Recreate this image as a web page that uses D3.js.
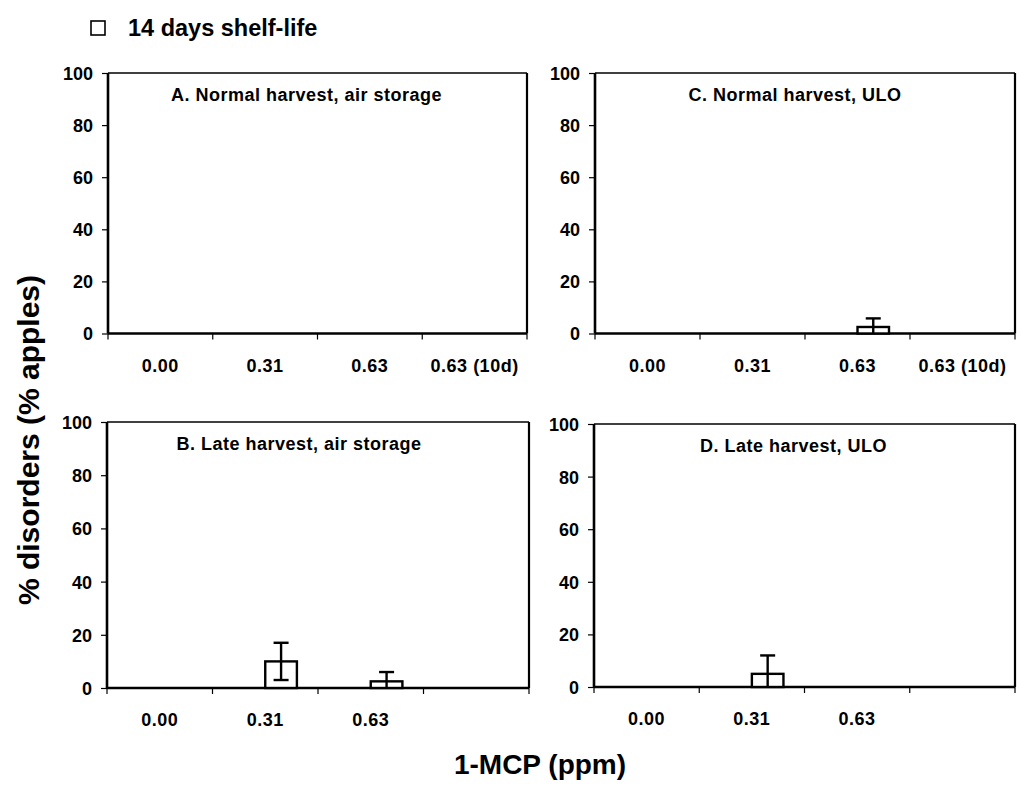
<!DOCTYPE html>
<html>
<head>
<meta charset="utf-8">
<script src="https://cdn.jsdelivr.net/npm/d3@7"></script>
<style>
  html, body { margin: 0; padding: 0; background: #fff; }
  svg { display: block; font-family: "Liberation Sans", Arial, Helvetica, sans-serif; font-weight: bold; }
</style>
</head>
<body>
<svg id="chart" width="1017" height="787"></svg>
<script>
// ---- data ----
const legendLabel = "14 days shelf-life";
const panelTitles = ["A. Normal harvest, air storage", "B. Late harvest, air storage", "C. Normal harvest, ULO", "D. Late harvest, ULO"];
const categoriesTop = ["0.00", "0.31", "0.63", "0.63 (10d)"];
const categoriesBottom = ["0.00", "0.31", "0.63", ""];
const valuesA = [0, 0, 0, 0];
const errorsA = [0, 0, 0, 0];
const valuesB = [0, 10, 2.5, null];
const errorsB = [0, 7, 3.5, null];
const valuesC = [0, 0, 2.5, 0];
const errorsC = [0, 0, 3.3, 0];
const valuesD = [0, 5, 0, null];
const errorsD = [0, 7, 0, null];
const yTicks = [0, 20, 40, 60, 80, 100];
const xAxisTitle = "1-MCP (ppm)";
const yAxisTitle = "% disorders (% apples)";

const svg = d3.select("#chart");

// panel layout
const layout = [
  { title: panelTitles[0], cats: categoriesTop, vals: valuesA, errs: errorsA, x0: 108, x1: 527, yTop: 73, yBase: 333.5, tdx: -11 },
  { title: panelTitles[1], cats: categoriesBottom, vals: valuesB, errs: errorsB, x0: 107, x1: 529, yTop: 422, yBase: 688, tdx: -19 },
  { title: panelTitles[2], cats: categoriesTop, vals: valuesC, errs: errorsC, x0: 595, x1: 1015, yTop: 73, yBase: 333.5, tdx: -10 },
  { title: panelTitles[3], cats: categoriesBottom, vals: valuesD, errs: errorsD, x0: 594, x1: 1015, yTop: 424, yBase: 687, tdx: -11 }
];

const tickFont = 18;

layout.forEach(p => {
  const g = svg.append("g");
  const keys = p.cats.map((c, i) => i);
  const x = d3.scaleBand().domain(keys).range([p.x0, p.x1]).padding(0);
  const sub = d3.scaleBand().domain(["_", "shelf"]).range([x.bandwidth() * 0.2, x.bandwidth() * 0.8]).padding(0);
  const y = d3.scaleLinear().domain([0, 100]).range([p.yBase, p.yTop]);

  // plot-area border (top and right)
  g.append("line").attr("x1", p.x0).attr("x2", p.x1).attr("y1", p.yTop).attr("y2", p.yTop)
    .attr("stroke", "#000").attr("stroke-width", 1.6);
  g.append("line").attr("x1", p.x1).attr("x2", p.x1).attr("y1", p.yTop).attr("y2", p.yBase)
    .attr("stroke", "#000").attr("stroke-width", 2.2);

  // y axis
  const yAxis = d3.axisLeft(y).tickValues(yTicks).tickSize(6).tickPadding(9).tickFormat(d3.format("d"));
  const ya = g.append("g").attr("transform", `translate(${p.x0},0)`).call(yAxis);
  ya.select(".domain").attr("stroke-width", 2.6).attr("d", `M0,${p.yTop}V${p.yBase}`);
  ya.selectAll(".tick line").attr("stroke-width", 1.2);
  ya.selectAll(".tick text").attr("font-size", tickFont).attr("font-weight", "bold")
    .attr("font-family", "Liberation Sans, Arial, sans-serif").attr("fill", "#000")
    .attr("dy", "0.36em");

  // x axis
  const boundaries = keys.map(k => x(k)).concat([p.x1]);
  g.selectAll(".xtick").data(boundaries).enter().append("line")
    .attr("x1", d => d).attr("x2", d => d).attr("y1", p.yBase).attr("y2", p.yBase + 6)
    .attr("stroke", "#000").attr("stroke-width", 1.2);
  g.append("line").attr("x1", p.x0).attr("x2", p.x1).attr("y1", p.yBase).attr("y2", p.yBase)
    .attr("stroke", "#000").attr("stroke-width", 2.6);
  g.selectAll(".xlab").data(keys).enter().append("text")
    .attr("x", k => x(k) + x.bandwidth() / 2).attr("y", p.yBase + 38)
    .attr("text-anchor", "middle").attr("font-size", tickFont).attr("letter-spacing", 0.5)
    .text(k => p.cats[k]);

  // bars
  const barData = keys.filter(k => p.vals[k] !== null && p.vals[k] > 0);
  g.selectAll(".bar").data(barData).enter().append("rect")
    .attr("x", k => x(k) + sub("shelf"))
    .attr("width", sub.bandwidth())
    .attr("y", k => y(p.vals[k]))
    .attr("height", k => y(0) - y(p.vals[k]))
    .attr("fill", "#fff").attr("stroke", "#000").attr("stroke-width", 2.4);

  // error bars
  const errData = barData.filter(k => p.errs[k] > 0);
  const cx = k => x(k) + sub("shelf") + sub.bandwidth() / 2;
  g.selectAll(".err").data(errData).enter().append("line")
    .attr("x1", cx).attr("x2", cx)
    .attr("y1", k => y(p.vals[k] + p.errs[k]))
    .attr("y2", k => y(Math.max(0, p.vals[k] - p.errs[k])))
    .attr("stroke", "#000").attr("stroke-width", 2.4);
  g.selectAll(".capT").data(errData).enter().append("line")
    .attr("x1", k => cx(k) - 7.5).attr("x2", k => cx(k) + 7.5)
    .attr("y1", k => y(p.vals[k] + p.errs[k])).attr("y2", k => y(p.vals[k] + p.errs[k]))
    .attr("stroke", "#000").attr("stroke-width", 2.4);
  g.selectAll(".capB").data(errData.filter(k => p.vals[k] - p.errs[k] > 0)).enter().append("line")
    .attr("x1", k => cx(k) - 7.5).attr("x2", k => cx(k) + 7.5)
    .attr("y1", k => y(p.vals[k] - p.errs[k])).attr("y2", k => y(p.vals[k] - p.errs[k]))
    .attr("stroke", "#000").attr("stroke-width", 2.4);

  // panel title
  g.append("text").attr("x", (p.x0 + p.x1) / 2 + p.tdx).attr("y", p.yTop + 28)
    .attr("text-anchor", "middle").attr("font-size", 18).attr("letter-spacing", 0.5).text(p.title);
});

// legend
svg.append("rect").attr("x", 91).attr("y", 21).attr("width", 14).attr("height", 14)
  .attr("fill", "#fff").attr("stroke", "#000").attr("stroke-width", 1.6);
svg.append("text").attr("x", 128).attr("y", 36).attr("font-size", 23.5).text(legendLabel);

// axis titles
svg.append("text").attr("x", 540).attr("y", 774).attr("text-anchor", "middle")
  .attr("font-size", 28).text(xAxisTitle);
svg.append("text").attr("transform", "translate(39,440) rotate(-90)").attr("text-anchor", "middle")
  .attr("font-size", 30).text(yAxisTitle);
</script>
</body>
</html>
